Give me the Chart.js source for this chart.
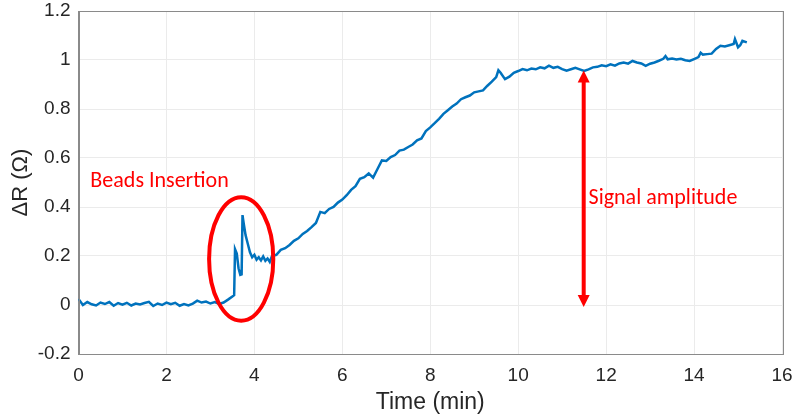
<!DOCTYPE html>
<html>
<head>
<meta charset="utf-8">
<script src="https://cdn.jsdelivr.net/npm/chart.js@4/dist/chart.umd.min.js"></script>
<style>
html,body{margin:0;padding:0;background:#fff;}
#wrap{width:795px;height:418px;position:relative;}
</style>
</head>
<body>
<div id="wrap"><canvas id="c" width="795" height="418"></canvas></div>
<script>
// Time (min)
const times = [
0.0,0.1,0.2,0.3,0.4,0.5,0.6,0.7,0.8,0.9,
1.0,1.1,1.2,1.3,1.4,1.5,1.6,1.7,1.8,1.9,
2.0,2.1,2.2,2.3,2.4,2.5,2.6,2.7,2.8,2.9,
3.0,3.1,3.2,3.3,3.4,3.5,3.54,3.56,3.6,3.64,3.68,3.71,3.73,3.76,3.8,3.85,3.9,3.95,
4.0,4.05,4.1,4.15,4.2,4.25,4.3,4.35,4.4,4.5,4.6,4.7,4.8,4.9,
5.0,5.1,5.2,5.3,5.4,5.5,5.6,5.7,5.8,5.9,
6.0,6.1,6.2,6.3,6.4,6.5,6.6,6.7,6.8,6.9,
7.0,7.1,7.2,7.3,7.4,7.5,7.6,7.7,7.8,7.9,
8.0,8.1,8.2,8.3,8.4,8.5,8.6,8.7,8.8,8.9,
9.0,9.1,9.2,9.3,9.4,9.5,9.55,9.6,9.7,9.8,9.9,
10.0,10.1,10.2,10.3,10.4,10.5,10.6,10.7,10.8,10.9,
11.0,11.1,11.2,11.3,11.4,11.5,11.6,11.7,11.8,11.9,
12.0,12.1,12.2,12.3,12.4,12.5,12.6,12.7,12.8,12.9,
13.0,13.1,13.2,13.3,13.35,13.4,13.5,13.6,13.7,13.8,13.9,
14.0,14.1,14.15,14.2,14.3,14.4,14.5,14.6,14.7,14.8,14.9,14.93,
15.0,15.05,15.1,15.2
];
// ΔR (Ω)
const deltaR = [
0.025,0.000,0.012,0.003,-0.002,0.010,0.004,0.012,-0.003,0.008,
0.001,0.009,-0.002,0.006,0.002,0.008,0.013,-0.004,0.006,0.000,
0.010,0.003,0.009,-0.003,0.004,-0.002,0.006,0.018,0.010,0.014,
0.006,0.012,0.004,0.010,0.022,0.035,0.040,0.228,0.210,0.150,0.123,0.125,0.367,0.330,0.285,0.250,0.215,0.195,
0.205,0.185,0.195,0.182,0.198,0.180,0.190,0.176,0.200,0.205,0.225,0.232,0.245,0.262,
0.272,0.290,0.302,0.318,0.335,0.380,0.375,0.392,0.400,0.418,
0.430,0.448,0.470,0.485,0.515,0.522,0.537,0.520,0.555,0.590,
0.588,0.604,0.612,0.630,0.634,0.645,0.655,0.672,0.680,0.710,
0.725,0.742,0.760,0.780,0.795,0.810,0.822,0.840,0.848,0.855,
0.868,0.872,0.876,0.895,0.912,0.930,0.958,0.948,0.922,0.932,0.948,
0.955,0.963,0.958,0.965,0.962,0.970,0.966,0.977,0.968,0.972,
0.963,0.956,0.962,0.968,0.962,0.955,0.962,0.970,0.972,0.978,
0.975,0.982,0.977,0.986,0.990,0.985,0.996,0.990,0.986,0.976,
0.985,0.990,0.997,1.005,1.016,1.003,1.006,1.002,1.005,0.999,0.996,
1.004,1.012,1.030,1.022,1.024,1.026,1.045,1.058,1.055,1.060,1.065,1.085,
1.052,1.060,1.078,1.072
];
const xTicks = [0,2,4,6,8,10,12,14,16];
const yTicks = [-0.2,0,0.2,0.4,0.6,0.8,1,1.2];

// Annotations (data coordinates)
const ellipseCenter = [3.70, 0.188];
const ellipseRadii = [0.73, 0.252];
const arrowX = 11.49;
const arrowRange = [0.957, -0.008];
const labelBeads = {text: 'Beads Insertion', x: 0.27, y: 0.505};
const labelSignal = {text: 'Signal amplitude', x: 11.6, y: 0.436};

const points = times.map((t, i) => ({x: t, y: deltaR[i]}));

const annotate = {
  id: 'annotate',
  afterDatasetsDraw(chart) {
    const {ctx, scales: {x, y}, chartArea: ca} = chart;
    ctx.save();
    ctx.strokeStyle = '#8a8a8a';
    ctx.lineWidth = 1;
    ctx.strokeRect(Math.round(ca.left) + 0.5, Math.round(ca.top) + 0.5, Math.round(ca.right - ca.left), Math.round(ca.bottom - ca.top));
    ctx.restore();

    ctx.save();
    ctx.strokeStyle = '#ff0000';
    ctx.fillStyle = '#ff0000';
    const cx = x.getPixelForValue(ellipseCenter[0]);
    const cy = y.getPixelForValue(ellipseCenter[1]);
    const rx = x.getPixelForValue(ellipseCenter[0] + ellipseRadii[0]) - cx;
    const ry = cy - y.getPixelForValue(ellipseCenter[1] + ellipseRadii[1]);
    ctx.lineWidth = 4;
    ctx.beginPath();
    ctx.ellipse(cx, cy, rx, ry, 0, 0, Math.PI * 2);
    ctx.stroke();
    const ax = x.getPixelForValue(arrowX);
    const yTop = y.getPixelForValue(arrowRange[0]);
    const yBot = y.getPixelForValue(arrowRange[1]);
    const head = 12, hw = 6;
    ctx.lineWidth = 4;
    ctx.beginPath();
    ctx.moveTo(ax, yTop + head - 1);
    ctx.lineTo(ax, yBot - head + 1);
    ctx.stroke();
    ctx.beginPath();
    ctx.moveTo(ax, yTop); ctx.lineTo(ax - hw, yTop + head); ctx.lineTo(ax + hw, yTop + head); ctx.closePath();
    ctx.fill();
    ctx.beginPath();
    ctx.moveTo(ax, yBot); ctx.lineTo(ax - hw, yBot - head); ctx.lineTo(ax + hw, yBot - head); ctx.closePath();
    ctx.fill();
    ctx.font = '22px Carlito, "Open Sans", sans-serif';
    ctx.textBaseline = 'middle';
    ctx.textAlign = 'left';
    ctx.fillText(labelBeads.text, x.getPixelForValue(labelBeads.x), y.getPixelForValue(labelBeads.y));
    ctx.fillText(labelSignal.text, x.getPixelForValue(labelSignal.x), y.getPixelForValue(labelSignal.y));
    ctx.restore();
  }
};

new Chart(document.getElementById('c'), {
  type: 'line',
  data: {
    datasets: [{
      data: points,
      borderColor: '#0072BD',
      borderWidth: 2.5,
      pointRadius: 0,
      tension: 0,
      fill: false
    }]
  },
  options: {
    responsive: false,
    animation: false,
    events: [],
    layout: {padding: {top: 11, right: 13, left: 0, bottom: 0}, autoPadding: false},
    plugins: {legend: {display: false}, tooltip: {enabled: false}},
    scales: {
      x: {
        type: 'linear',
        min: 0, max: 16,
        afterBuildTicks(s) { s.ticks = xTicks.map(v => ({value: v})); },
        afterFit(s) { s.height = 64; s.paddingLeft = 0; s.paddingRight = 0; },
        grid: {color: '#ebebeb', drawTicks: false},
        border: {color: '#8a8a8a', width: 1},
        ticks: {color: '#262626', font: {family: '"Liberation Sans", Arial, sans-serif', size: 19}, padding: 10, maxRotation: 0},
        title: {display: true, text: 'Time (min)', color: '#262626', font: {family: '"Liberation Sans", Arial, sans-serif', size: 23}, padding: {top: 0, bottom: 2}}
      },
      y: {
        type: 'linear',
        min: -0.2, max: 1.2,
        afterBuildTicks(s) { s.ticks = yTicks.map(v => ({value: v})); },
        afterFit(s) { s.width = 78.5; s.paddingTop = 0; s.paddingBottom = 0; },
        grid: {color: '#ebebeb', drawTicks: false},
        border: {color: '#8a8a8a', width: 1},
        ticks: {color: '#262626', font: {family: '"Liberation Sans", Arial, sans-serif', size: 19}, padding: 8,
          callback: v => String(Math.round(v * 10) / 10)},
        title: {display: true, text: 'ΔR (Ω)', color: '#262626', font: {family: '"Liberation Sans", Arial, sans-serif', size: 22}, padding: {top: 8, bottom: 0}}
      }
    }
  },
  plugins: [annotate]
});
</script>
</body>
</html>
